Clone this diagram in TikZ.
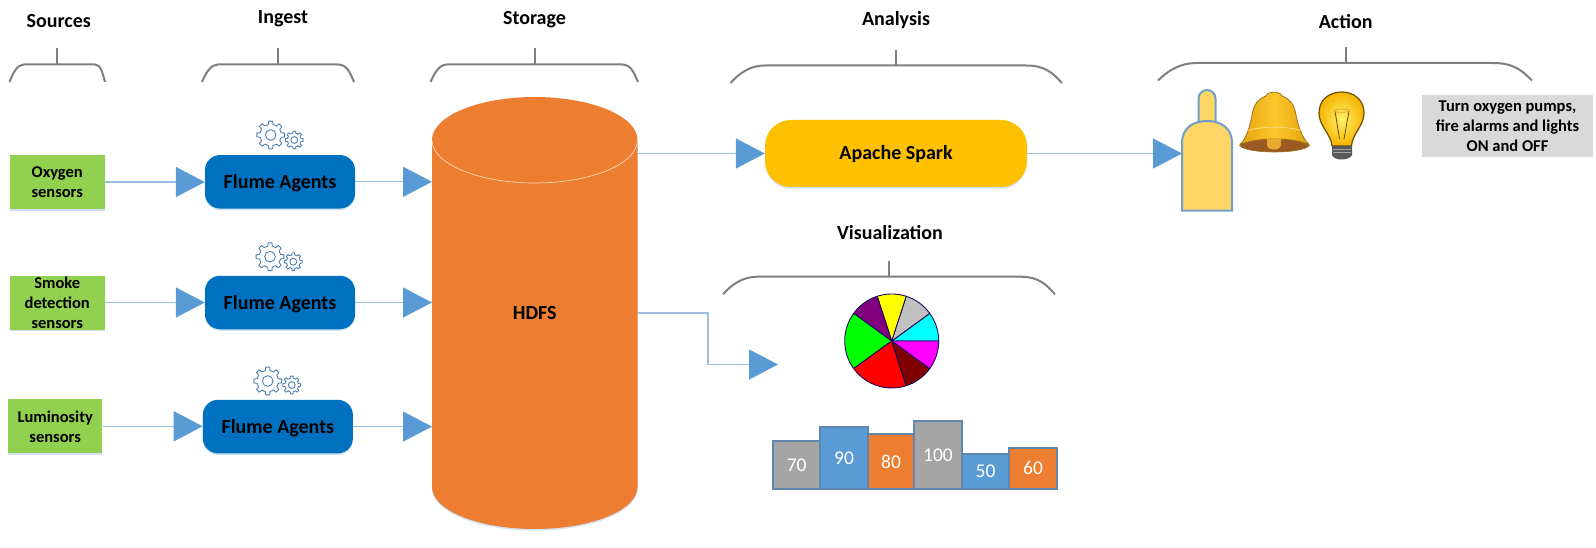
\documentclass[tikz,border=0pt]{standalone}
\usepackage{fontspec}
\setmainfont{Carlito}
\usetikzlibrary{arrows.meta,shadows,calc}
\definecolor{tipblue}{HTML}{5B9BD5}
\definecolor{linkblue}{HTML}{9ABFE0}
\definecolor{brk}{HTML}{7F7F7F}
\definecolor{sensorgreen}{HTML}{92D050}
\definecolor{flume}{HTML}{0070C0}
\definecolor{hdfsorange}{HTML}{ED7D31}
\definecolor{sparkyellow}{HTML}{FFC000}
\definecolor{boxgrey}{HTML}{D9D9D9}
\definecolor{bargrey}{HTML}{A5A5A5}
\definecolor{barline}{HTML}{5F87AE}
\definecolor{gearline}{HTML}{4F7FAF}
\definecolor{bottlefill}{HTML}{FFD565}
\definecolor{bottleline}{HTML}{6FA0CC}
\definecolor{pienavy}{HTML}{1A0A5A}
\definecolor{piecyan}{HTML}{00FFFF}
\definecolor{piegrey}{HTML}{C0C0C0}
\definecolor{pieyellow}{HTML}{FFFF00}
\definecolor{piepurple}{HTML}{800080}
\definecolor{piegreen}{HTML}{00FF00}
\definecolor{piered}{HTML}{FF0000}
\definecolor{piemaroon}{HTML}{800000}
\definecolor{piemagenta}{HTML}{FF00FF}
\definecolor{bellgold}{HTML}{FFC72C}
\definecolor{belledge}{HTML}{E3A20E}
\definecolor{bellline}{HTML}{9A7414}
\definecolor{bellbrown}{HTML}{9C5A23}
\definecolor{clapper}{HTML}{E8A72E}
\definecolor{bulbin}{HTML}{FFF36B}
\definecolor{bulbout}{HTML}{F5B400}
\definecolor{bulbline}{HTML}{6B4E00}
\newcommand{\mybase}[1]{\raisebox{-6.5pt}[0pt][0pt]{#1}}
\tikzset{
  softshadow/.style={drop shadow={shadow xshift=0pt,shadow yshift=-1.6pt,fill=tipblue,opacity=.28}},
  title/.style={anchor=base,font=\fontsize{20}{24}\selectfont\bfseries,inner sep=0pt,text=black},
  sensor/.style={fill=sensorgreen,softshadow,minimum width=94.5pt,minimum height=54pt,inner sep=0pt,align=center,
     font=\fontsize{16.5}{20}\selectfont\bfseries,text=black},
  agent/.style={fill=flume,rounded corners=15pt,softshadow,minimum width=150pt,minimum height=53.5pt,inner sep=0pt,
     font=\fontsize{20}{24}\selectfont\bfseries,text=black},
  link/.style={draw=linkblue,line width=1.3pt,-{Triangle[length=29pt,width=30pt,color=tipblue]}},
  bracketline/.style={draw=brk,line width=2pt},
  gearstroke/.style={draw=gearline,line width=.9pt},
  barnode/.style={draw=barline,line width=2pt,text=white,inner sep=0pt,font=\fontsize{19.5}{22}\selectfont},
  piewedge/.style={draw=pienavy,line width=.9pt,line join=round},
}
% #1 left, #2 inner left, #3 inner right, #4 right, #5 y of the bar, #6 top of the stem; stem x in \stemx
\newcommand{\mybrack}[6]{%
  \draw[bracketline] (#1,#5+17.5) .. controls (#1*.75+#2*.25,#5+8) and (#1*.45+#2*.55,#5) .. (#2,#5)
     -- (#3,#5) .. controls (#4*.55+#3*.45,#5) and (#4*.75+#3*.25,#5+8) .. (#4,#5+17.5);
  \draw[bracketline] (\stemx,#6) -- (\stemx,#5);}
\newcommand{\mygear}[3]{%
  \draw[gearstroke,shift={(#1,#2)}] (0,0) circle[radius=#3*.38];
  \draw[gearstroke,shift={(#1,#2)},line join=round] (-14:#3*.76)
    \foreach \a in {0,45,...,315}{ -- (\a-12:#3*.78) -- (\a-8:#3) -- (\a+8:#3) -- (\a+12:#3*.78) -- (\a+31:#3*.76)} -- cycle;}
\newcommand{\mywedge}[3]{%
  \filldraw[piewedge,fill=#3] (pie) -- plot[domain=#1:#2,samples=14] ({891.7+47*cos(\x)},{341-47*sin(\x)}) -- cycle;}
\begin{document}
\begin{tikzpicture}[x=1pt,y=-1pt]
\useasboundingbox (0,0) rectangle (1596,548);
\fill[white] (0,0) rectangle (1596,548);

% titles
\node[title] (tsources) at (58.7,27.5) {Sources};
\node[title] (tingest) at (283,24) {Ingest};
\node[title] (tstorage) at (534.5,24.5) {Storage};
\node[title] (tanalysis) at (896,26) {Analysis};
\node[title] (taction) at (1345.7,29) {Action};
\node[title] (tviz) at (890,240) {Visualization};

% brackets
\def\stemx{57}\mybrack{9.5}{24}{95}{105}{64.5}{48}
\def\stemx{277.5}\mybrack{202}{218}{338}{354}{64.5}{48}
\def\stemx{534.5}\mybrack{430.5}{447}{622}{638}{64.5}{48}
\def\stemx{896}\mybrack{730.5}{765}{1026}{1062}{65.5}{50}
\def\stemx{1345.7}\mybrack{1158}{1197}{1493}{1532}{63}{47}
\def\stemx{889}\mybrack{723}{758}{1020}{1055}{276.7}{261}

% HDFS cylinder
\fill[hdfsorange,softshadow] (432,140) -- (432,487) .. controls (432,510.2) and (478,529) .. (534.75,529)
   .. controls (591.5,529) and (637.5,510.2) .. (637.5,487) -- (637.5,140)
   .. controls (637.5,116.2) and (591.5,97) .. (534.75,97) .. controls (478,97) and (432,116.2) .. (432,140) -- cycle;
\draw[draw=orange!30!white,line width=.7pt] (432,140) .. controls (432,163.8) and (478,183) .. (534.75,183)
   .. controls (591.5,183) and (637.5,163.8) .. (637.5,140);
\node[minimum width=205.5pt,minimum height=432pt,inner sep=0pt,outer sep=0pt,
   font=\fontsize{20}{24}\selectfont\bfseries,text=black] (hdfs) at (534.75,313) {\mybase{HDFS}};

% sources
\node[sensor] (s1) at (57.25,182) {Oxygen\\sensors};
\node[sensor] (s2) at (57.25,302.5) {Smoke\\detection\\sensors};
\node[sensor] (s3) at (55.2,426.3) {Luminosity\\sensors};

% agents
\node[agent] (f1) at (280,181.8) {\mybase{Flume Agents}};
\node[agent] (f2) at (280,302.5) {\mybase{Flume Agents}};
\node[agent] (f3) at (277.9,426.6) {\mybase{Flume Agents}};

\mygear{270.7}{135}{14}\mygear{294.3}{140}{9}
\mygear{270}{256.7}{14}\mygear{293.3}{261.7}{9}
\mygear{267.7}{381}{14}\mygear{291.7}{385}{9}

% spark
\node[fill=sparkyellow,rounded corners=26pt,softshadow,minimum width=262pt,minimum height=67pt,inner sep=0pt,
   font=\fontsize{20}{24}\selectfont\bfseries,text=black] (spark) at (896,153.5) {\mybase{Apache Spark}};

% bottle
\draw[draw=bottleline,line width=2pt,fill=bottlefill] (1198.5,122) -- (1198.5,98.5) arc[start angle=180,end angle=360,radius=8.5] -- (1215.5,122);
\filldraw[draw=bottleline,line width=2pt,fill=bottlefill] (1182,210.7) -- (1182,143) .. controls (1182,128) and (1193,121) .. (1207,121)
   .. controls (1221,121) and (1232,128) .. (1232,143) -- (1232,210.7) -- cycle;
\node[minimum width=50pt,minimum height=121pt,inner sep=0pt,outer sep=0pt] (bottle) at (1207,150.5) {};

% bell
\filldraw[draw=bellline,line width=.6pt,fill=bellbrown] (1274.5,145) ellipse[x radius=34.5,y radius=7];
\shadedraw[draw=bellline,line width=.8pt,left color=belledge,right color=belledge,middle color=bellgold]
  (1240,145) .. controls (1248,136) and (1250,125) .. (1252,115) .. controls (1254,104) and (1258,99) .. (1266,96)
  .. controls (1267,91) and (1281,91) .. (1282,96) .. controls (1290,99) and (1294,104) .. (1296,115)
  .. controls (1298,125) and (1301,136) .. (1309,145) .. controls (1295,137) and (1254,137) .. (1240,145) -- cycle;
\draw[draw=bellgold!60!white,line width=.8pt] (1246,131) .. controls (1260,126) and (1288,126) .. (1303,131);
\fill[clapper] (1267,139) -- (1281,139) -- (1281,145) .. controls (1281,151) and (1267,151) .. (1267,145) -- cycle;

% bulb
\shadedraw[draw=bulbline,line width=1.2pt,inner color=bulbin,outer color=bulbout]
  (1332,146) .. controls (1331,134) and (1319,126) .. (1319,113) .. controls (1319,100) and (1329,92) .. (1341.7,92)
  .. controls (1354,92) and (1364,100) .. (1364,113) .. controls (1364,126) and (1352,134) .. (1351.5,146) -- cycle;
\draw[draw=bulbline,line width=.8pt] (1335,111) -- (1339.5,139) (1349,111) -- (1344,139);
\draw[draw=clapper,line width=.8pt] (1341.7,110.7) ellipse[x radius=7.5,y radius=1.6];
\fill[black!65] (1332,146) -- (1352,146) -- (1352,155) .. controls (1349,161) and (1334,161) .. (1332,155) -- cycle;
\draw[black!35,line width=.7pt] (1333,149) -- (1351,149) (1333,152.5) -- (1351,152.5);

% action text
\node[fill=boxgrey,minimum width=170.5pt,minimum height=62pt,inner sep=0pt,align=center,
  font=\fontsize{16.5}{20}\selectfont\bfseries,text=black] (act) at (1507.5,126) {Turn oxygen pumps,\\fire alarms and lights\\ON and OFF};

% pie
\coordinate (pie) at (891.7,341);
\mywedge{0}{36}{piecyan}
\mywedge{36}{72}{piegrey}
\mywedge{72}{108}{pieyellow}
\mywedge{108}{144}{piepurple}
\mywedge{144}{216}{piegreen}
\mywedge{216}{288}{piered}
\mywedge{288}{324}{piemaroon}
\mywedge{324}{360}{piemagenta}

% bars
\node[barnode,fill=bargrey,minimum width=46.7pt,minimum height=48pt] (b1) at (796.7,465) {70};
\node[barnode,fill=tipblue,minimum width=48pt,minimum height=61.7pt] (b2) at (844,458.2) {90};
\node[barnode,fill=hdfsorange,minimum width=46pt,minimum height=54.7pt] (b3) at (891,461.7) {80};
\node[barnode,fill=bargrey,minimum width=48pt,minimum height=68.3pt] (b4) at (938,454.9) {100};
\node[barnode,fill=tipblue,minimum width=47pt,minimum height=34.7pt] (b5) at (985.5,471.7) {50};
\node[barnode,fill=hdfsorange,minimum width=47.7pt,minimum height=41.3pt] (b6) at (1033,468.4) {60};

% free end of the visualisation link
\coordinate (vizend) at (778,364.5);

% connectors
\draw[link] (s1.east) -- (s1.east -| f1.west);
\draw[link] (s2.east) -- (s2.east -| f2.west);
\draw[link] (s3.east) -- (s3.east -| f3.west);
\draw[link] (f1.east) -- (f1.east -| hdfs.west);
\draw[link] (f2.east) -- (f2.east -| hdfs.west);
\draw[link] (f3.east) -- (f3.east -| hdfs.west);
\draw[link] (hdfs.east |- spark.west) -- (spark.west);
\draw[link] (spark.east) -- (spark.east -| bottle.west);
\draw[link] (hdfs.east) -- ++(70.5,0) |- (vizend);
\end{tikzpicture}
\end{document}
